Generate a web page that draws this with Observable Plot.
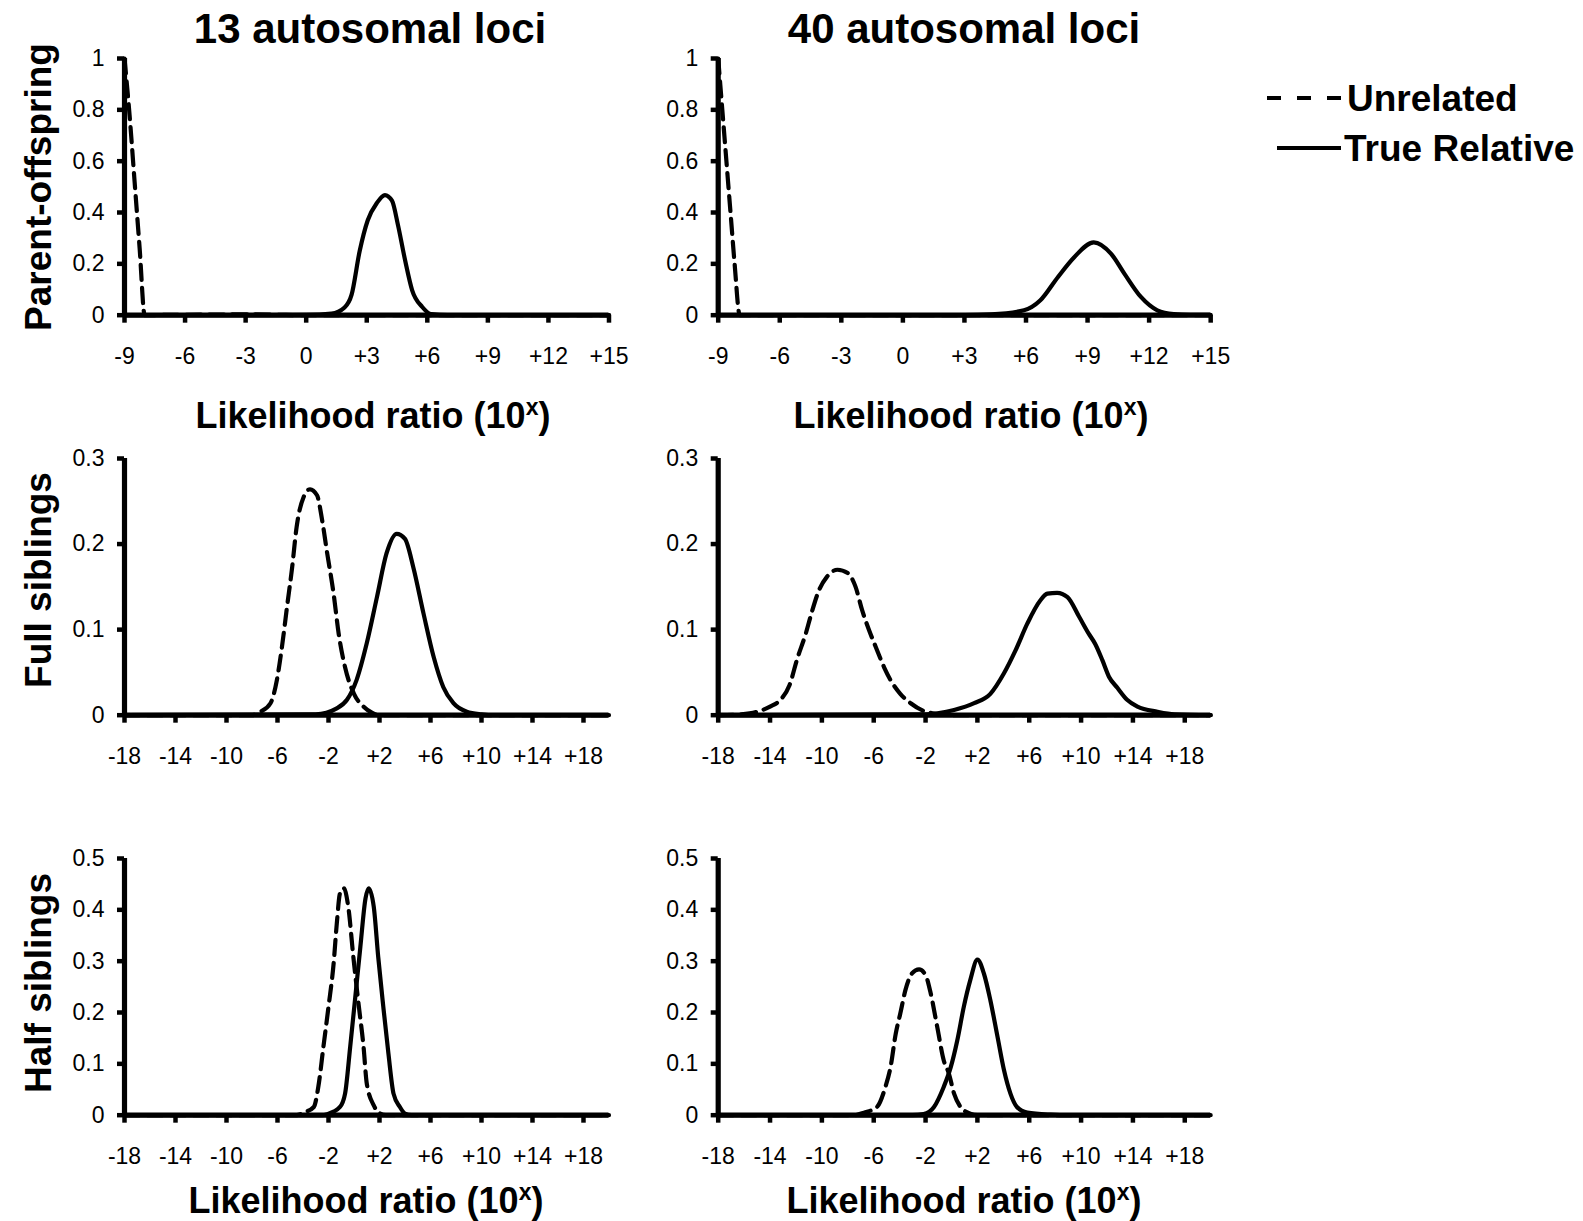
<!DOCTYPE html>
<html>
<head>
<meta charset="utf-8">
<script src="https://cdn.jsdelivr.net/npm/d3@7"></script>
<script src="https://cdn.jsdelivr.net/npm/@observablehq/plot@0.6"></script>
<style>
  html, body { margin: 0; padding: 0; background: white; }
  #root { position: relative; width: 1583px; height: 1221px; background: white; overflow: hidden;
          font-family: "Liberation Sans", Arial, sans-serif; color: black; }
  .abs { position: absolute; white-space: nowrap; line-height: 1; }
  .c { transform: translate(-50%, -50%); }
  .rot { transform: translate(-50%, -50%) rotate(-90deg); }
  .title { font-size: 42px; font-weight: bold; }
  .xt { font-size: 36px; font-weight: bold; }
  .xt sup { font-size: 23px; vertical-align: 0.55em; line-height: 0; }
  .yt { font-size: 37px; font-weight: bold; }
  .leg { font-size: 37px; font-weight: bold; }
</style>
</head>
<body>
<div id="root"></div>
<script>
// ---- tick values ----
const xTicksPO = [-9, -6, -3, 0, 3, 6, 9, 12, 15];
const xTicksSib = [-18, -14, -10, -6, -2, 2, 6, 10, 14, 18];
const yTicksPO = [0, 0.2, 0.4, 0.6, 0.8, 1];
const yTicksFS = [0, 0.1, 0.2, 0.3];
const yTicksHS = [0, 0.1, 0.2, 0.3, 0.4, 0.5];

// ---- column / row labels ----
const colTitles = ["13 autosomal loci", "40 autosomal loci"];
const rowTitles = ["Parent-offspring", "Full siblings", "Half siblings"];
const seriesNames = ["Unrelated", "True Relative"];

// ---- Parent-offspring, 13 loci ----
const po13UnrelX = [-9, -8.75, -8.5, -8.25, -8, -7, -5, -3, -1, 0, 15];
const po13UnrelY = [1, 0.78, 0.52, 0.26, 0, 0.001, 0.002, 0.003, 0.001, 0, 0];
const po13RelX = [-9, -3, 0, 1.25, 1.9, 2.25, 2.65, 3.05, 3.5, 3.9, 4.25, 4.55, 4.9, 5.25, 5.75, 6.2, 7, 15];
const po13RelY = [0, 0, 0.001, 0.006, 0.03, 0.08, 0.25, 0.37, 0.437, 0.468, 0.446, 0.35, 0.214, 0.097, 0.032, 0.004, 0, 0];

// ---- Parent-offspring, 40 loci ----
const po40UnrelX = [-9, -8.8, -8.6, -8.4, -8.2, -7.95, -7, 15];
const po40UnrelY = [1, 0.8, 0.6, 0.4, 0.2, 0, 0, 0];
const po40RelX = [-9, 3, 4.3, 5.9, 6.7, 7.55, 8.35, 9.3, 10.15, 10.8, 11.6, 12.4, 13.2, 14, 15];
const po40RelY = [0, 0, 0.003, 0.019, 0.058, 0.148, 0.226, 0.284, 0.239, 0.161, 0.071, 0.019, 0.004, 0.001, 0.001];

// ---- Full siblings, 13 loci ----
const fs13UnrelX = [-18, -8, -7.35, -6.55, -6.05, -5.65, -5.25, -4.85, -4.5, -3.95, -3.45, -2.9, -2.5, -2.1, -1.6, -1.2, -0.7, 0, 0.75, 1.4, 2, 20];
const fs13UnrelY = [0, 0, 0.004, 0.014, 0.041, 0.08, 0.127, 0.173, 0.22, 0.255, 0.264, 0.257, 0.228, 0.189, 0.142, 0.095, 0.056, 0.025, 0.01, 0.003, 0, 0];
const fs13RelX = [-18, -3, -1.35, -0.55, 0.2, 1, 1.8, 2.55, 3.35, 4, 4.65, 5.45, 6.25, 7, 7.8, 8.85, 10, 11, 20];
const fs13RelY = [0, 0.001, 0.008, 0.018, 0.041, 0.084, 0.138, 0.189, 0.212, 0.206, 0.173, 0.119, 0.068, 0.033, 0.014, 0.004, 0.001, 0, 0];

// ---- Full siblings, 40 loci ----
const fs40UnrelX = [-18, -16.3, -15, -14, -13.2, -12.5, -11.9, -11.25, -10.75, -10.25, -9.6, -8.8, -8, -7.4, -6.9, -6.35, -5.85, -5.2, -4.7, -3.95, -3.15, -2.15, -1.35, 0, 20];
const fs40UnrelY = [0, 0.001, 0.004, 0.01, 0.018, 0.035, 0.066, 0.095, 0.122, 0.145, 0.162, 0.17, 0.166, 0.15, 0.123, 0.099, 0.08, 0.056, 0.041, 0.025, 0.014, 0.005, 0.002, 0, 0];
const fs40RelX = [-18, -2, 0.2, 1.75, 3, 4.05, 4.95, 5.85, 6.85, 7.4, 8.15, 8.95, 9.85, 10.6, 11.1, 11.65, 12.15, 12.8, 13.55, 14.35, 15.9, 17.2, 20];
const fs40RelY = [0, 0.001, 0.006, 0.014, 0.025, 0.049, 0.076, 0.107, 0.134, 0.142, 0.143, 0.138, 0.115, 0.095, 0.083, 0.064, 0.045, 0.032, 0.018, 0.01, 0.004, 0.001, 0];

// ---- Half siblings, 13 loci ----
const hs13UnrelX = [-18, -4.5, -3.95, -3.15, -2.8, -2.4, -2, -1.6, -1.35, -1.1, -0.8, -0.45, -0.05, 0.35, 0.75, 1, 1.55, 2, 2.5, 20];
const hs13UnrelY = [0, 0, 0.005, 0.016, 0.055, 0.133, 0.211, 0.295, 0.373, 0.432, 0.442, 0.406, 0.308, 0.218, 0.133, 0.062, 0.019, 0.004, 0, 0];
const hs13RelX = [-18, -2.5, -2.1, -1.1, -0.7, -0.3, 0.1, 0.5, 0.9, 1.15, 1.55, 1.9, 2.3, 2.7, 3.1, 3.6, 4, 4.5, 20];
const hs13RelY = [0, 0, 0.002, 0.016, 0.042, 0.133, 0.23, 0.328, 0.422, 0.442, 0.406, 0.308, 0.211, 0.12, 0.042, 0.016, 0.003, 0, 0];

// ---- Half siblings, 40 loci ----
const hs40UnrelX = [-18, -7.5, -6.75, -5.75, -5.1, -4.7, -4.3, -3.95, -3.55, -3.05, -2.5, -2, -1.6, -1.1, -0.6, -0.2, 0.2, 0.7, 1.45, 2, 20];
const hs40UnrelY = [0, 0, 0.005, 0.016, 0.055, 0.094, 0.159, 0.198, 0.244, 0.276, 0.284, 0.273, 0.237, 0.172, 0.107, 0.081, 0.042, 0.016, 0.003, 0, 0];
const hs40RelX = [-18, -3, -2.15, -1.35, -0.6, -0.05, 0.45, 0.95, 1.45, 2, 2.5, 3, 3.55, 4.05, 4.55, 5.05, 5.85, 7.65, 9, 20];
const hs40RelY = [0, 0, 0.002, 0.016, 0.055, 0.094, 0.146, 0.211, 0.263, 0.303, 0.276, 0.224, 0.153, 0.088, 0.042, 0.016, 0.005, 0.001, 0, 0];

const zip = (xs, ys) => xs.map((x, i) => ({x, y: ys[i]}));
const fmtX = d => d > 0 ? `+${d}` : `${d}`;
const fmtY = d => `${d}`;

const root = document.getElementById("root");
const FONT = '"Liberation Sans", Arial, sans-serif';

const cols = [
  {left: 0, marginLeft: 124, plotW: 484.5},
  {left: 640, marginLeft: 77.7, plotW: 492.5}
];
const rows = [
  {topPx: 58.3, xDomain: [-9, 15], xTicks: xTicksPO, yDomain: [0, 1], yTicks: yTicksPO},
  {topPx: 458.3, xDomain: [-18, 20], xTicks: xTicksSib, yDomain: [0, 0.3], yTicks: yTicksFS},
  {topPx: 858.3, xDomain: [-18, 20], xTicks: xTicksSib, yDomain: [0, 0.5], yTicks: yTicksHS}
];
const panels = [
  [[po13UnrelX, po13UnrelY, po13RelX, po13RelY], [po40UnrelX, po40UnrelY, po40RelX, po40RelY]],
  [[fs13UnrelX, fs13UnrelY, fs13RelX, fs13RelY], [fs40UnrelX, fs40UnrelY, fs40RelX, fs40RelY]],
  [[hs13UnrelX, hs13UnrelY, hs13RelX, hs13RelY], [hs40UnrelX, hs40UnrelY, hs40RelX, hs40RelY]]
];
const plotH = 256.7, mTop = 15, mBottom = 60, mRight = 30;

rows.forEach((row, r) => {
  cols.forEach((col, c) => {
    const [ux, uy, rx, ry] = panels[r][c];
    const chart = Plot.plot({
      width: col.marginLeft + col.plotW + mRight,
      height: mTop + plotH + mBottom,
      marginLeft: col.marginLeft, marginRight: mRight, marginTop: mTop, marginBottom: mBottom,
      style: {fontFamily: FONT, fontSize: "23px", color: "black", background: "transparent", overflow: "visible"},
      x: {domain: row.xDomain, label: null},
      y: {domain: row.yDomain, label: null},
      marks: [
        Plot.axisX({ticks: row.xTicks, tickFormat: fmtX, tickSize: 8, tickPadding: 24, strokeWidth: 4.5, fontSize: 23, label: null}),
        Plot.axisY({ticks: row.yTicks, tickFormat: fmtY, tickSize: 7, tickPadding: 13, strokeWidth: 4.5, fontSize: 23, label: null}),
        Plot.ruleY([row.yDomain[0]], {strokeWidth: 5.2}),
        Plot.ruleX([row.xDomain[0]], {strokeWidth: 5.2}),
        Plot.line(zip(ux, uy), {x: "x", y: "y", curve: "monotone-x", stroke: "black", strokeWidth: 4.2, strokeDasharray: "15,8"}),
        Plot.line(zip(rx, ry), {x: "x", y: "y", curve: "monotone-x", stroke: "black", strokeWidth: 4.2})
      ]
    });
    const wrap = document.createElement("div");
    wrap.className = "abs";
    wrap.style.left = col.left + "px";
    wrap.style.top = (row.topPx - mTop) + "px";
    wrap.appendChild(chart);
    root.appendChild(wrap);
  });
});

function addText(html, cls, x, y) {
  const d = document.createElement("div");
  d.className = "abs " + cls;
  d.style.left = x + "px";
  d.style.top = y + "px";
  d.innerHTML = html;
  root.appendChild(d);
  return d;
}
// column titles
addText(colTitles[0], "title c", 370, 29);
addText(colTitles[1], "title c", 964, 29);
// row titles
addText(rowTitles[0], "yt rot", 38, 187);
addText(rowTitles[1], "yt rot", 38, 580);
addText(rowTitles[2], "yt rot", 38, 983);
// x axis titles
const xTitle = "Likelihood ratio (10<sup>x</sup>)";
addText(xTitle, "xt c", 373, 416);
addText(xTitle, "xt c", 971, 416);
addText(xTitle, "xt c", 366, 1201);
addText(xTitle, "xt c", 964, 1201);

// legend
const leg = document.createElementNS("http://www.w3.org/2000/svg", "svg");
leg.setAttribute("width", 90); leg.setAttribute("height", 80);
leg.style.position = "absolute"; leg.style.left = "1260px"; leg.style.top = "80px";
leg.innerHTML = `<line x1="7" x2="81" y1="18" y2="18" stroke="black" stroke-width="4" stroke-dasharray="14,16"/>
<line x1="17" x2="81" y1="68" y2="68" stroke="black" stroke-width="4"/>`;
root.appendChild(leg);
const l1 = addText(seriesNames[0], "leg", 1347, 98); l1.style.transform = "translateY(-50%)";
const l2 = addText(seriesNames[1], "leg", 1344, 148); l2.style.transform = "translateY(-50%)";
</script>
</body>
</html>
